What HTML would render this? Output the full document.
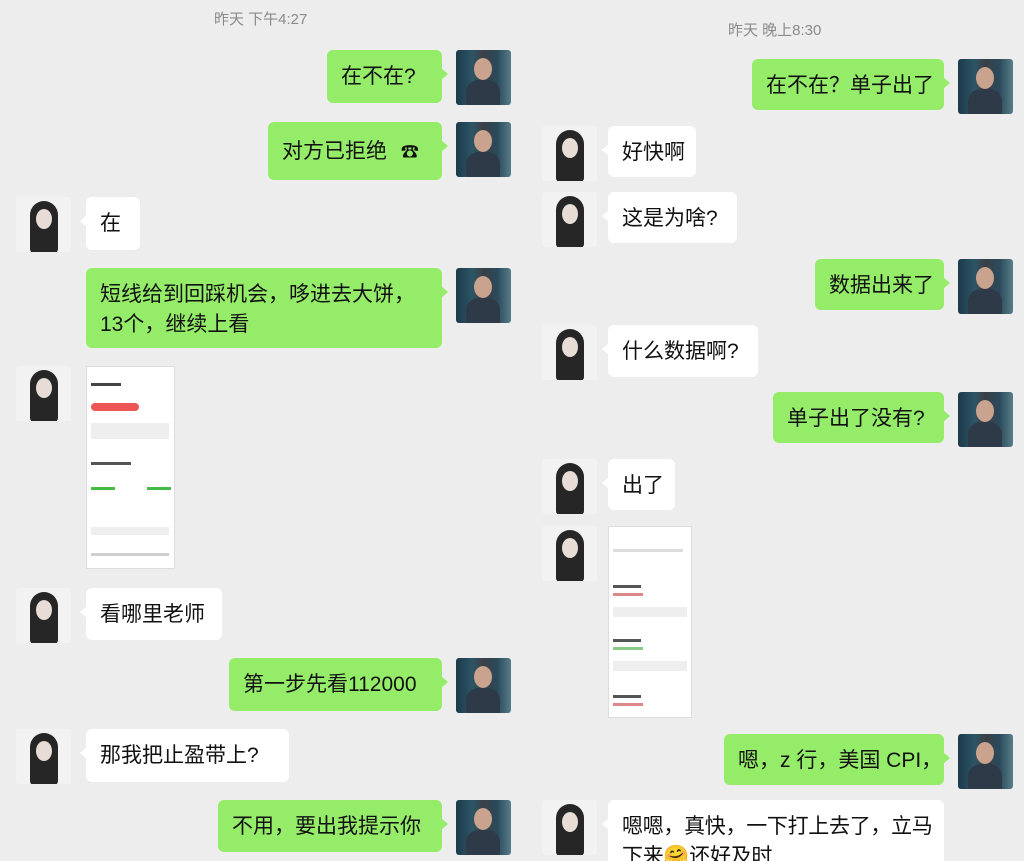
<!DOCTYPE html>
<html><head><meta charset="utf-8"><style>
html,body{margin:0;width:1024px;height:861px;overflow:hidden;}
body{background:#ededed;position:relative;font-family:"Liberation Sans","Noto Sans CJK SC",sans-serif;}
.t{position:absolute;color:#8a8a8a;font-size:15px;}
.b{position:absolute;border-radius:6px;font-size:21px;color:#111;box-sizing:border-box;padding:0 14px;line-height:54px;white-space:nowrap;}
.g{background:#95ec69;}
.w{background:#fff;}
.g:after{content:"";position:absolute;right:-6px;top:18px;border-left:7px solid #95ec69;border-top:6px solid transparent;border-bottom:6px solid transparent;}
.w:after{content:"";position:absolute;left:-6px;top:18px;border-right:7px solid #fff;border-top:6px solid transparent;border-bottom:6px solid transparent;}
.m{position:absolute;width:55px;height:55px;border-radius:3px;background:linear-gradient(90deg,#1c3a4a 0%,#2d5566 30%,#3b3f46 50%,#2a4a5c 75%,#577d88 100%);overflow:hidden;}
.m:before{content:"";position:absolute;left:18px;top:8px;width:18px;height:22px;border-radius:50%;background:#c9a38d;}
.m:after{content:"";position:absolute;left:10px;top:30px;width:34px;height:30px;border-radius:40% 40% 0 0;background:#2f3a48;}
.f{position:absolute;width:55px;height:55px;border-radius:3px;background:#f2f2f2;overflow:hidden;}
.f:before{content:"";position:absolute;left:14px;top:4px;width:28px;height:52px;border-radius:14px 14px 4px 4px;background:#262626;}
.f:after{content:"";position:absolute;left:20px;top:12px;width:16px;height:20px;border-radius:50%;background:#e8dcd6;}
.img{position:absolute;background:#fff;border:1px solid #ddd;box-sizing:border-box;}
.l{position:absolute;height:3px;background:#cfcfcf;}
</style></head><body>
<div class="t" style="left:214px;top:8px">昨天 下午4:27</div>
<div class="b g" style="left:327px;top:50px;width:115px;height:53px">在不在?</div><div class="m" style="left:456px;top:50px"></div>
<div class="b g" style="left:268px;top:122px;width:174px;height:58px;line-height:60px">对方已拒绝 <span style="font-size:18px;margin-left:8px">☎</span></div><div class="m" style="left:456px;top:122px"></div>
<div class="f" style="left:16px;top:197px"></div><div class="b w" style="left:86px;top:197px;width:54px;height:53px">在</div>
<div class="b g" style="left:86px;top:268px;width:356px;height:80px;line-height:30px;padding-top:12px">短线给到回踩机会，哆进去大饼，<br>13个，继续上看</div><div class="m" style="left:456px;top:268px"></div>
<div class="f" style="left:16px;top:366px"></div>
<div class="img" style="left:86px;top:366px;width:89px;height:203px">
<div class="l" style="left:4px;top:16px;width:30px;background:#444"></div>
<div style="position:absolute;left:4px;top:36px;width:48px;height:8px;background:#e55;border-radius:4px"></div>
<div class="l" style="left:4px;top:56px;width:78px;background:#eee;height:16px"></div>
<div class="l" style="left:4px;top:95px;width:40px;background:#555"></div>
<div class="l" style="left:4px;top:120px;width:24px;background:#4b4"></div><div class="l" style="left:60px;top:120px;width:24px;background:#4b4"></div>
<div class="l" style="left:4px;top:160px;width:78px;height:8px;background:#eee"></div>
<div class="l" style="left:4px;top:186px;width:78px"></div>
</div>
<div class="f" style="left:16px;top:588px"></div><div class="b w" style="left:86px;top:588px;width:136px;height:52px">看哪里老师</div>
<div class="b g" style="left:229px;top:658px;width:213px;height:53px">第一步先看112000</div><div class="m" style="left:456px;top:658px"></div>
<div class="f" style="left:16px;top:729px"></div><div class="b w" style="left:86px;top:729px;width:203px;height:53px">那我把止盈带上?</div>
<div class="b g" style="left:218px;top:800px;width:224px;height:52px">不用，要出我提示你</div><div class="m" style="left:456px;top:800px"></div>

<div class="t" style="left:728px;top:19px">昨天 晚上8:30</div>
<div class="b g" style="left:752px;top:59px;width:192px;height:51px">在不在？单子出了</div><div class="m" style="left:958px;top:59px"></div>
<div class="f" style="left:542px;top:126px"></div><div class="b w" style="left:608px;top:126px;width:88px;height:51px">好快啊</div>
<div class="f" style="left:542px;top:192px"></div><div class="b w" style="left:608px;top:192px;width:129px;height:51px">这是为啥?</div>
<div class="b g" style="left:815px;top:259px;width:129px;height:51px">数据出来了</div><div class="m" style="left:958px;top:259px"></div>
<div class="f" style="left:542px;top:325px"></div><div class="b w" style="left:608px;top:325px;width:150px;height:52px">什么数据啊?</div>
<div class="b g" style="left:773px;top:392px;width:171px;height:51px">单子出了没有?</div><div class="m" style="left:958px;top:392px"></div>
<div class="f" style="left:542px;top:459px"></div><div class="b w" style="left:608px;top:459px;width:67px;height:51px">出了</div>
<div class="f" style="left:542px;top:526px"></div>
<div class="img" style="left:608px;top:526px;width:84px;height:192px">
<div class="l" style="left:4px;top:22px;width:70px;background:#ddd"></div>
<div class="l" style="left:4px;top:58px;width:28px;background:#555"></div><div class="l" style="left:4px;top:66px;width:30px;background:#d88"></div>
<div class="l" style="left:4px;top:80px;width:74px;height:10px;background:#eee"></div>
<div class="l" style="left:4px;top:112px;width:28px;background:#555"></div><div class="l" style="left:4px;top:120px;width:30px;background:#8c8"></div>
<div class="l" style="left:4px;top:134px;width:74px;height:10px;background:#eee"></div>
<div class="l" style="left:4px;top:168px;width:28px;background:#555"></div><div class="l" style="left:4px;top:176px;width:30px;background:#d88"></div>
</div>
<div class="b g" style="left:724px;top:734px;width:220px;height:51px">嗯，z 行，美国 CPI，</div><div class="m" style="left:958px;top:734px"></div>
<div class="f" style="left:542px;top:800px"></div>
<div class="b w" style="left:608px;top:800px;width:336px;height:80px;line-height:30px;padding-top:12px;letter-spacing:-0.3px">嗯嗯，真快，一下打上去了，立马<br>下来🤗还好及时</div>
</body></html>
